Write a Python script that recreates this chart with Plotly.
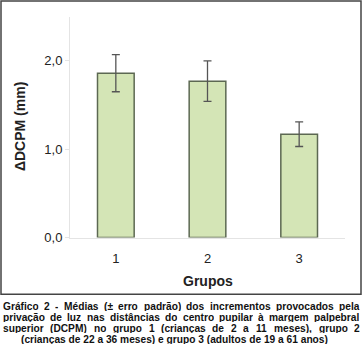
import plotly.graph_objects as go

groups = ["1", "2", "3"]
means = [1.86, 1.77, 1.17]
std_err = [0.21, 0.23, 0.14]
y_ticks = [0.0, 1.0, 2.0]
y_tick_text = ["0,0", "1,0", "2,0"]
y_title = "ΔDCPM (mm)"
x_title = "Grupos"
caption_lines = [
    "Gráfico 2 - Médias (± erro padrão) dos incrementos provocados pela",
    "privação de luz nas distâncias do centro pupilar à margem palpebral",
    "superior (DCPM) no grupo 1 (crianças de 2 a 11 meses), grupo 2",
    "(crianças de 22 a 36 meses) e grupo 3 (adultos de 19 a 61 anos)",
]

W, H = 362, 356
def px(x):
    return x / W
def py(y):
    return 1 - y / H

fig = go.Figure()
fig.add_trace(go.Bar(
    x=groups, y=means,
    marker=dict(color="#d4e5b6", line=dict(color="#5c6852", width=1.5)),
    error_y=dict(type="data", array=std_err, visible=True, color="#555555", thickness=1.3, width=4),
    showlegend=False,
))

# Arial Bold widths (per 1000 em) for justified caption
widths = {" ": 278, "(": 333, ")": 333, ",": 278, "-": 333, ".": 278, "±": 549}
for c in "0123456789":
    widths[c] = 556
up = dict(A=722, B=722, C=722, D=722, E=667, F=611, G=778, H=722, I=278, J=556, K=722, L=611, M=833,
          N=722, O=778, P=667, Q=778, R=722, S=667, T=611, U=722, V=667, W=944, X=667, Y=667, Z=611)
lo = dict(a=556, b=611, c=556, d=611, e=556, f=333, g=611, h=611, i=278, j=278, k=556, l=278, m=889,
          n=611, o=611, p=611, q=611, r=389, s=556, t=333, u=611, v=556, w=778, x=556, y=556, z=500)
widths.update(up)
widths.update(lo)
for c in "áàâãéç":
    widths[c] = 556
widths["í"] = 278
widths["ó"] = 611

CAP_SIZE = 10.2
def tw(s, size):
    return sum(widths.get(c, 556) for c in s) * size / 1000.0

cap_font = dict(family="Liberation Sans, Arial, sans-serif", size=CAP_SIZE, color="#111111")
annotations = []
left, right = 2.7, 359.8
line_y = [312.9, 324.35, 335.8, 347.25]
for i, line in enumerate(caption_lines):
    if i < 3:
        words = line.split(" ")
        total = sum(tw(w, CAP_SIZE) for w in words)
        gap = (right - left - total) / (len(words) - 1)
        x = left
        for w in words:
            annotations.append(dict(text="<b>%s</b>" % w, x=px(x), y=py(line_y[i]), xref="paper", yref="paper",
                                    xanchor="left", yanchor="middle", showarrow=False, font=cap_font,
                                    borderpad=0, borderwidth=0, height=10))
            x += tw(w, CAP_SIZE) + gap
    else:
        annotations.append(dict(text="<b>%s</b>" % line, x=px(174.5), y=py(line_y[i]), xref="paper",
                                yref="paper", xanchor="center", yanchor="middle", showarrow=False, font=cap_font,
                                borderpad=0, borderwidth=0, height=10))

annotations.append(dict(text="<b>%s</b>" % y_title, x=px(20), y=py(130), xref="paper", yref="paper",
                        textangle=-90, showarrow=False, xanchor="center", yanchor="middle",
                        font=dict(family="Liberation Sans, Arial, sans-serif", size=14, color="#222222")))
annotations.append(dict(text="<b>%s</b>" % x_title, x=px(207.5), y=py(287), xref="paper", yref="paper",
                        showarrow=False, xanchor="center", yanchor="middle",
                        font=dict(family="Liberation Sans, Arial, sans-serif", size=14, color="#222222")))

fig.update_layout(
    width=W, height=H,
    margin=dict(l=0, r=0, t=0, b=0),
    paper_bgcolor="white", plot_bgcolor="white",
    bargap=0.6,
    font=dict(family="Liberation Sans, Arial, sans-serif", size=13, color="#222222"),
    xaxis=dict(domain=[px(70), px(345)], type="category", showline=True, linecolor="#e4e4e4", linewidth=1,
               ticks="", showgrid=False, ticklabelstandoff=9, tickfont=dict(size=13, color="#222222")),
    yaxis=dict(domain=[py(243), py(17)], range=[0, 2.5], showline=True, linecolor="#e4e4e4", linewidth=1,
               tickvals=y_ticks, ticktext=y_tick_text, ticks="outside", ticklen=4, tickcolor="#e4e4e4",
               showgrid=False, zeroline=False, tickfont=dict(size=13, color="#222222")),
    annotations=annotations,
    shapes=[dict(type="rect", xref="paper", yref="paper", x0=px(1), x1=px(361), y0=py(301), y1=py(1),
                 line=dict(color="#444444", width=1.5))],
)

fig.write_html("out.html", config={"displayModeBar": False},
               post_script="document.body.style.margin='0';document.body.style.overflow='hidden';")
